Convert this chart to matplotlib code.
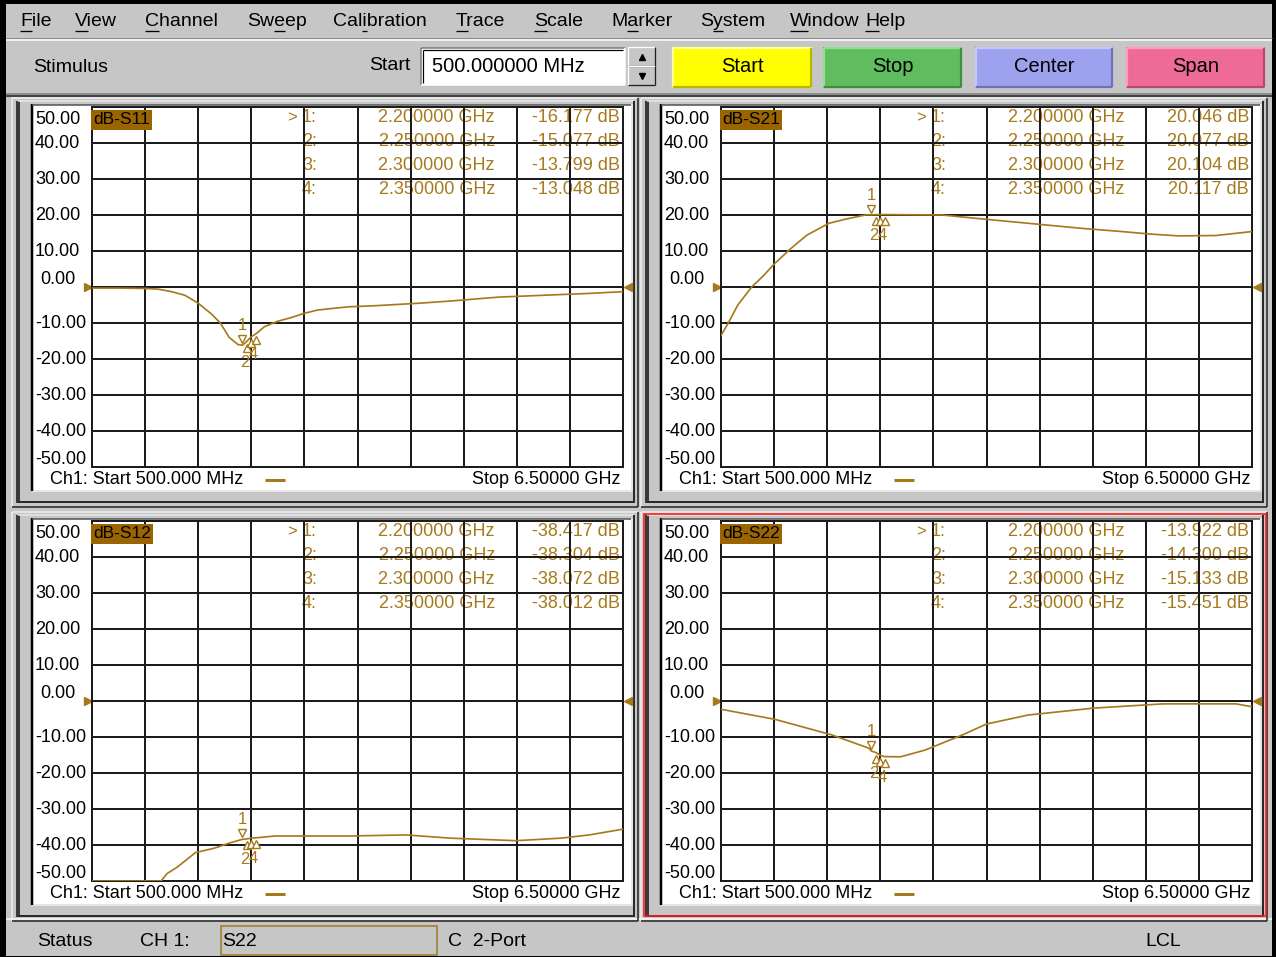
import matplotlib
matplotlib.use("Agg")
import matplotlib.pyplot as plt
from matplotlib.patches import Rectangle
from matplotlib import font_manager as fm
from matplotlib.transforms import ScaledTranslation

W, H = 1276, 957

# ---------------- data ----------------
freq_start_ghz = 0.5
freq_stop_ghz = 6.5
y_ticks = [50, 40, 30, 20, 10, 0, -10, -20, -30, -40, -50]
y_tick_labels = ["50.00", "40.00", "30.00", "20.00", "10.00", "0.00",
                 "-10.00", "-20.00", "-30.00", "-40.00", "-50.00"]
marker_freqs = [2.20, 2.25, 2.30, 2.35]
marker_freq_labels = ["2.200000 GHz", "2.250000 GHz", "2.300000 GHz", "2.350000 GHz"]

s11_f = [0.5, 0.8, 1.1, 1.25, 1.4, 1.55, 1.7, 1.85, 1.95, 2.05, 2.15, 2.2, 2.25, 2.3, 2.35,
         2.45, 2.6, 2.75, 2.9, 3.05, 3.2, 3.4, 3.7, 4.2, 4.55, 5.1, 5.7, 6.1, 6.5]
s11_db = [-0.3, -0.3, -0.4, -0.6, -1.3, -2.3, -4.5, -7.5, -10.0, -14.0, -16.0, -16.177, -15.077,
          -13.799, -13.048, -11.0, -9.5, -8.5, -7.3, -6.4, -6.0, -5.5, -5.2, -4.5, -3.9, -2.8,
          -2.2, -1.8, -1.3]
s11_mk = [-16.177, -15.077, -13.799, -13.048]

s21_f = [0.5, 0.58, 0.69, 0.85, 0.97, 1.11, 1.29, 1.47, 1.72, 1.9, 2.13, 2.2, 2.25, 2.3, 2.35,
         3.0, 3.37, 3.97, 4.57, 5.03, 5.35, 5.67, 6.09, 6.5]
s21_db = [-13.5, -10.1, -5.0, 0.1, 2.9, 6.6, 10.7, 14.4, 17.7, 18.8, 20.0, 20.046, 20.077,
          20.104, 20.117, 20.0, 19.1, 17.7, 16.3, 15.4, 14.7, 14.2, 14.3, 15.4]
s21_mk = [20.046, 20.077, 20.104, 20.117]

s12_f = [0.5, 1.28, 1.35, 1.46, 1.67, 1.88, 2.06, 2.2, 2.25, 2.3, 2.35, 2.57, 3.4, 4.05,
         4.55, 5.29, 5.8, 6.12, 6.5]
s12_db = [-50.0, -50.0, -47.9, -46.2, -42.1, -40.9, -39.4, -38.417, -38.304, -38.072, -38.012,
          -37.5, -37.5, -37.2, -38.1, -38.8, -38.1, -37.2, -35.6]
s12_mk = [-38.417, -38.304, -38.072, -38.012]

s22_f = [0.5, 1.11, 1.75, 2.17, 2.2, 2.25, 2.3, 2.35, 2.53, 2.81, 3.23, 3.5, 3.97, 4.7, 5.49,
         6.32, 6.5]
s22_db = [-2.3, -5.1, -9.4, -13.1, -13.922, -14.3, -15.133, -15.451, -15.5, -13.6, -9.4, -6.4,
          -3.9, -2.0, -0.8, -0.8, -1.6]
s22_mk = [-13.922, -14.3, -15.133, -15.451]

menu_items = ["File", "View", "Channel", "Sweep", "Calibration", "Trace", "Scale",
              "Marker", "System", "Window", "Help"]
menu_mnemonic = [0, 0, 0, 2, 3, 0, 0, 1, 1, 0, 0]
button_labels = ["Start", "Stop", "Center", "Span"]

# ---------------- style ----------------
UI = "Liberation Sans"
PF = "Liberation Sans"
BG = "#c6c6c6"
TR = "#a67a1c"
TITLE_BG = "#9a6400"
GRID = "#1c1c1c"
UIS = 14

fig = plt.figure(figsize=(W / 100, H / 100), dpi=100)
fig.patch.set_facecolor(BG)
bg = fig.add_axes([0, 0, 1, 1])
bg.set_xlim(0, W)
bg.set_ylim(H, 0)
bg.axis("off")
PX = bg.transData


def L(px):
    return px * 0.72


def rect(x0, y0, x1, y1, fc="none", ec="none", lw=0, z=1):
    bg.add_patch(Rectangle((x0, y0), x1 - x0, y1 - y0, facecolor=fc, edgecolor=ec,
                           linewidth=L(lw), zorder=z))


def hl(x0, x1, y, c, lw=1, z=2):
    bg.plot([x0, x1], [y, y], color=c, lw=L(lw), zorder=z, solid_capstyle="butt")


def vl(x, y0, y1, c, lw=1, z=2):
    bg.plot([x, x], [y0, y1], color=c, lw=L(lw), zorder=z, solid_capstyle="butt")


def bevel(x0, y0, x1, y1, tl, br, lw=1, z=2):
    hl(x0, x1, y0, tl, lw, z)
    vl(x0, y0, y1, tl, lw, z)
    hl(x0, x1, y1, br, lw, z)
    vl(x1, y0, y1, br, lw, z)


def txt(x, y, s, size=13, ha="left", color="black", fam=None, z=5, ax=None):
    a = ax if ax is not None else bg
    return a.text(x, y, s, transform=PX, fontsize=size, ha=ha, va="center", color=color,
                  family=[fam or UI, "DejaVu Sans"], zorder=z)


# ---- window frame ----
rect(0, 0, W, H, fc="#000000", z=0)
rect(6, 4, W - 4, H - 1, fc=BG, z=0.5)

# ---- menu bar ----
menu_x = [20, 75, 145, 247, 333, 456, 534, 611, 700, 790, 865]
fig.canvas.draw()
renderer = fig.canvas.get_renderer()
mfont = fm.FontProperties(family=[UI, "DejaVu Sans"], size=UIS)
for x, lab, k in zip(menu_x, menu_items, menu_mnemonic):
    txt(x, 21, lab, size=UIS)
    wp = renderer.get_text_width_height_descent(lab[:k], mfont, ismath=False)[0] if k else 0
    wc = renderer.get_text_width_height_descent(lab[k], mfont, ismath=False)[0]
    hl(x + wp, x + wp + wc, 31, "black", 1.3, 6)
hl(6, W - 4, 38, "#8a8a8a", 1)
hl(6, W - 4, 39.5, "#ffffff", 1.5)

# ---- stimulus toolbar ----
txt(33, 67, "Stimulus", size=UIS)
txt(410, 65, "Start", size=UIS, ha="right")
rect(421, 48, 625, 85, fc="white")
bevel(421, 48, 625, 85, "#7a7a7a", "#ffffff", 1.5)
hl(423, 623, 50, "#000000", 1.2)
vl(423, 50, 83, "#000000", 1.2)
txt(432, 66, "500.000000 MHz", size=14.5)
for yy0, yy1, mk in [(47, 66, "^"), (66, 85, "v")]:
    rect(628, yy0, 655, yy1, fc=BG)
    bevel(628, yy0, 655, yy1, "#ffffff", "#202020", 1.3)
    bg.plot([641.5], [(yy0 + yy1) / 2], marker=mk, ms=4, color="black", zorder=4)
btn_x = [(672, 812), (823, 962), (975, 1113), (1126, 1265)]
btn_c = ["#ffff00", "#5fbd5f", "#9ea2ee", "#ee6b98"]
btn_l = ["#ffff9a", "#8ee08e", "#c4c7ff", "#ff9cbd"]
btn_d = ["#b8b800", "#3c8f3c", "#6d71bd", "#b84a72"]
for (a, b), c, lc, dc, lab in zip(btn_x, btn_c, btn_l, btn_d, button_labels):
    rect(a, 47, b, 88, fc=c, z=1.5)
    bevel(a + 1, 48, b - 1, 87, lc, dc, 2.2)
    txt((a + b) / 2, 67, lab, size=14.5, ha="center")
hl(6, W - 4, 94, "#7a7a7a", 1.5)
hl(6, W - 4, 96, "#1a1a1a", 1.5)

# ---- status bar ----
hl(6, W - 4, 919, "#ffffff", 1.5)
txt(37, 941, "Status", size=UIS)
txt(140, 941, "CH 1:", size=UIS)
rect(221, 926, 437, 955, fc=BG, ec="#a07820", lw=1.5, z=2)
txt(222, 941, "S22", size=UIS)
txt(448, 941, "C  2-Port", size=UIS)
txt(1145, 941, "LCL", size=UIS)


# ---- measurement panels ----
def panel(ox, oy, title, f, db, mk, active=False):
    # frame
    x0, y0, x1, y1 = 12 + ox, 98 + oy, 638 + ox, 507 + oy
    rect(x0, y0, x1, y1, fc=BG, z=1)
    bevel(x0, y0, x1, y1, "#f0f0f0", "#202020", 1.5)
    vl(18 + ox, 101 + oy, 503 + oy, "#3a3a3a", 4)
    hl(18 + ox, 634 + ox, 101 + oy, "#e8e8e8", 1.5)
    hl(18 + ox, 634 + ox, 502 + oy, "#2a2a2a", 2)
    vl(634 + ox, 101 + oy, 503 + oy, "#2a2a2a", 2)
    rect(33 + ox, 105 + oy, 631 + ox, 490 + oy, fc="white", z=1.2)
    vl(32 + ox, 104 + oy, 491 + oy, "#000000", 2.5, 2.5)
    hl(32 + ox, 631 + ox, 104.5 + oy, "#505050", 1.5, 2.5)
    hl(32 + ox, 632 + ox, 491 + oy, "#e6e6e6", 2)
    vl(632 + ox, 104 + oy, 491 + oy, "#e6e6e6", 2)
    if active:
        rect(644 - 629 + ox, 514 - 414 + oy, 1266 - 629 + ox, 916 - 414 + oy,
             ec="#ff1a1a", lw=1.6, z=3)

    # plot area
    px0, px1, py0, py1 = 92 + ox, 623 + ox, 107 + oy, 467 + oy
    ax = fig.add_axes([px0 / W, 1 - py1 / H, (px1 - px0) / W, (py1 - py0) / H])
    ax.set_facecolor("none")
    ax.set_xlim(freq_start_ghz, freq_stop_ghz)
    ax.set_ylim(y_ticks[-1], y_ticks[0])
    step = (freq_stop_ghz - freq_start_ghz) / 10
    ax.set_xticks([freq_start_ghz + step * i for i in range(11)])
    ax.set_yticks(y_ticks)
    ax.tick_params(length=0, labelbottom=False, labelleft=False)
    ax.grid(True, color=GRID, lw=L(2))
    ax.set_axisbelow(False)
    for sp in ax.spines.values():
        sp.set_color(GRID)
        sp.set_linewidth(L(2))
        sp.set_zorder(2.6)

    # y labels
    for v, lab in zip(y_ticks, y_tick_labels):
        ypix = py0 + (y_ticks[0] - v) / (y_ticks[0] - y_ticks[-1]) * (py1 - py0)
        ypix = min(max(ypix, py0 + 12), py1 - 7)
        if v == 0:
            ypix -= 7
        txt((40 if v == 0 else 35) + ox, ypix, lab, size=13, fam=PF, ax=ax, z=1)

    # title
    ax.text(93 + ox, 120 + oy, title, transform=PX, fontsize=12.5, family=[PF],
            va="center", ha="left", color="black", zorder=5,
            bbox=dict(boxstyle="square,pad=0.12", fc=TITLE_BG, ec="none"))

    # marker readouts
    for i, (fl, v) in enumerate(zip(marker_freq_labels, mk)):
        yy = 118 + 24 * i + oy
        if i == 0:
            txt(287 + ox, yy, ">", size=12, color=TR, fam=PF, ax=ax, z=1)
        txt(302 + ox, yy, f"{i + 1}:", size=13, color=TR, fam=PF, ax=ax, z=1)
        txt(495 + ox, yy, fl, size=13, ha="right", color=TR, fam=PF, ax=ax, z=1)
        txt(620 + ox, yy, f"{v:.3f} dB", size=13, ha="right", color=TR, fam=PF, ax=ax, z=1)

    # footer
    txt(50 + ox, 480 + oy, "Ch1: Start 500.000 MHz", size=13, fam=PF, ax=ax, z=5)
    hl(265 + ox, 285 + ox, 480 + oy, TR, 3, 5)
    txt(621 + ox, 480 + oy, "Stop 6.50000 GHz", size=13, ha="right", fam=PF, ax=ax, z=5)

    # reference-level markers
    bg.plot([88 + ox], [287 + oy], marker=">", ms=6, color=TR, zorder=6)
    bg.plot([628 + ox], [287 + oy], marker="<", ms=6, color=TR, zorder=6)

    # trace
    ax.plot(f, db, color=TR, lw=L(1.7), zorder=3, clip_on=True)

    # trace markers
    up = ax.transData + ScaledTranslation(0, 4.5 / 72, fig.dpi_scale_trans)
    dn = ax.transData + ScaledTranslation(0, -4.5 / 72, fig.dpi_scale_trans)
    ax.plot(marker_freqs[:1], mk[:1], ls="none", marker="v", ms=5.5, mfc="white",
            mec=TR, mew=1.0, transform=up, zorder=4, clip_on=False)
    ax.plot(marker_freqs[1:], mk[1:], ls="none", marker="^", ms=5.5, mfc="white",
            mec=TR, mew=1.0, transform=dn, zorder=4, clip_on=False)
    ax.annotate("1", (marker_freqs[0], mk[0]), xytext=(0, 14), textcoords="offset points",
                ha="center", va="center", fontsize=12, color=TR, family=[PF], zorder=5)
    for k in (1, 3):
        ax.annotate(str(k + 1), (marker_freqs[k], mk[k]), xytext=(-1.5, -15),
                    textcoords="offset points", ha="center", va="center", fontsize=12,
                    color=TR, family=[PF], zorder=5)
    return ax


panel(0, 0, "dB-S11", s11_f, s11_db, s11_mk)
panel(629, 0, "dB-S21", s21_f, s21_db, s21_mk)
panel(0, 414, "dB-S12", s12_f, s12_db, s12_mk)
panel(629, 414, "dB-S22", s22_f, s22_db, s22_mk, active=True)

fig.savefig("out.png", dpi=100, facecolor=fig.get_facecolor())
